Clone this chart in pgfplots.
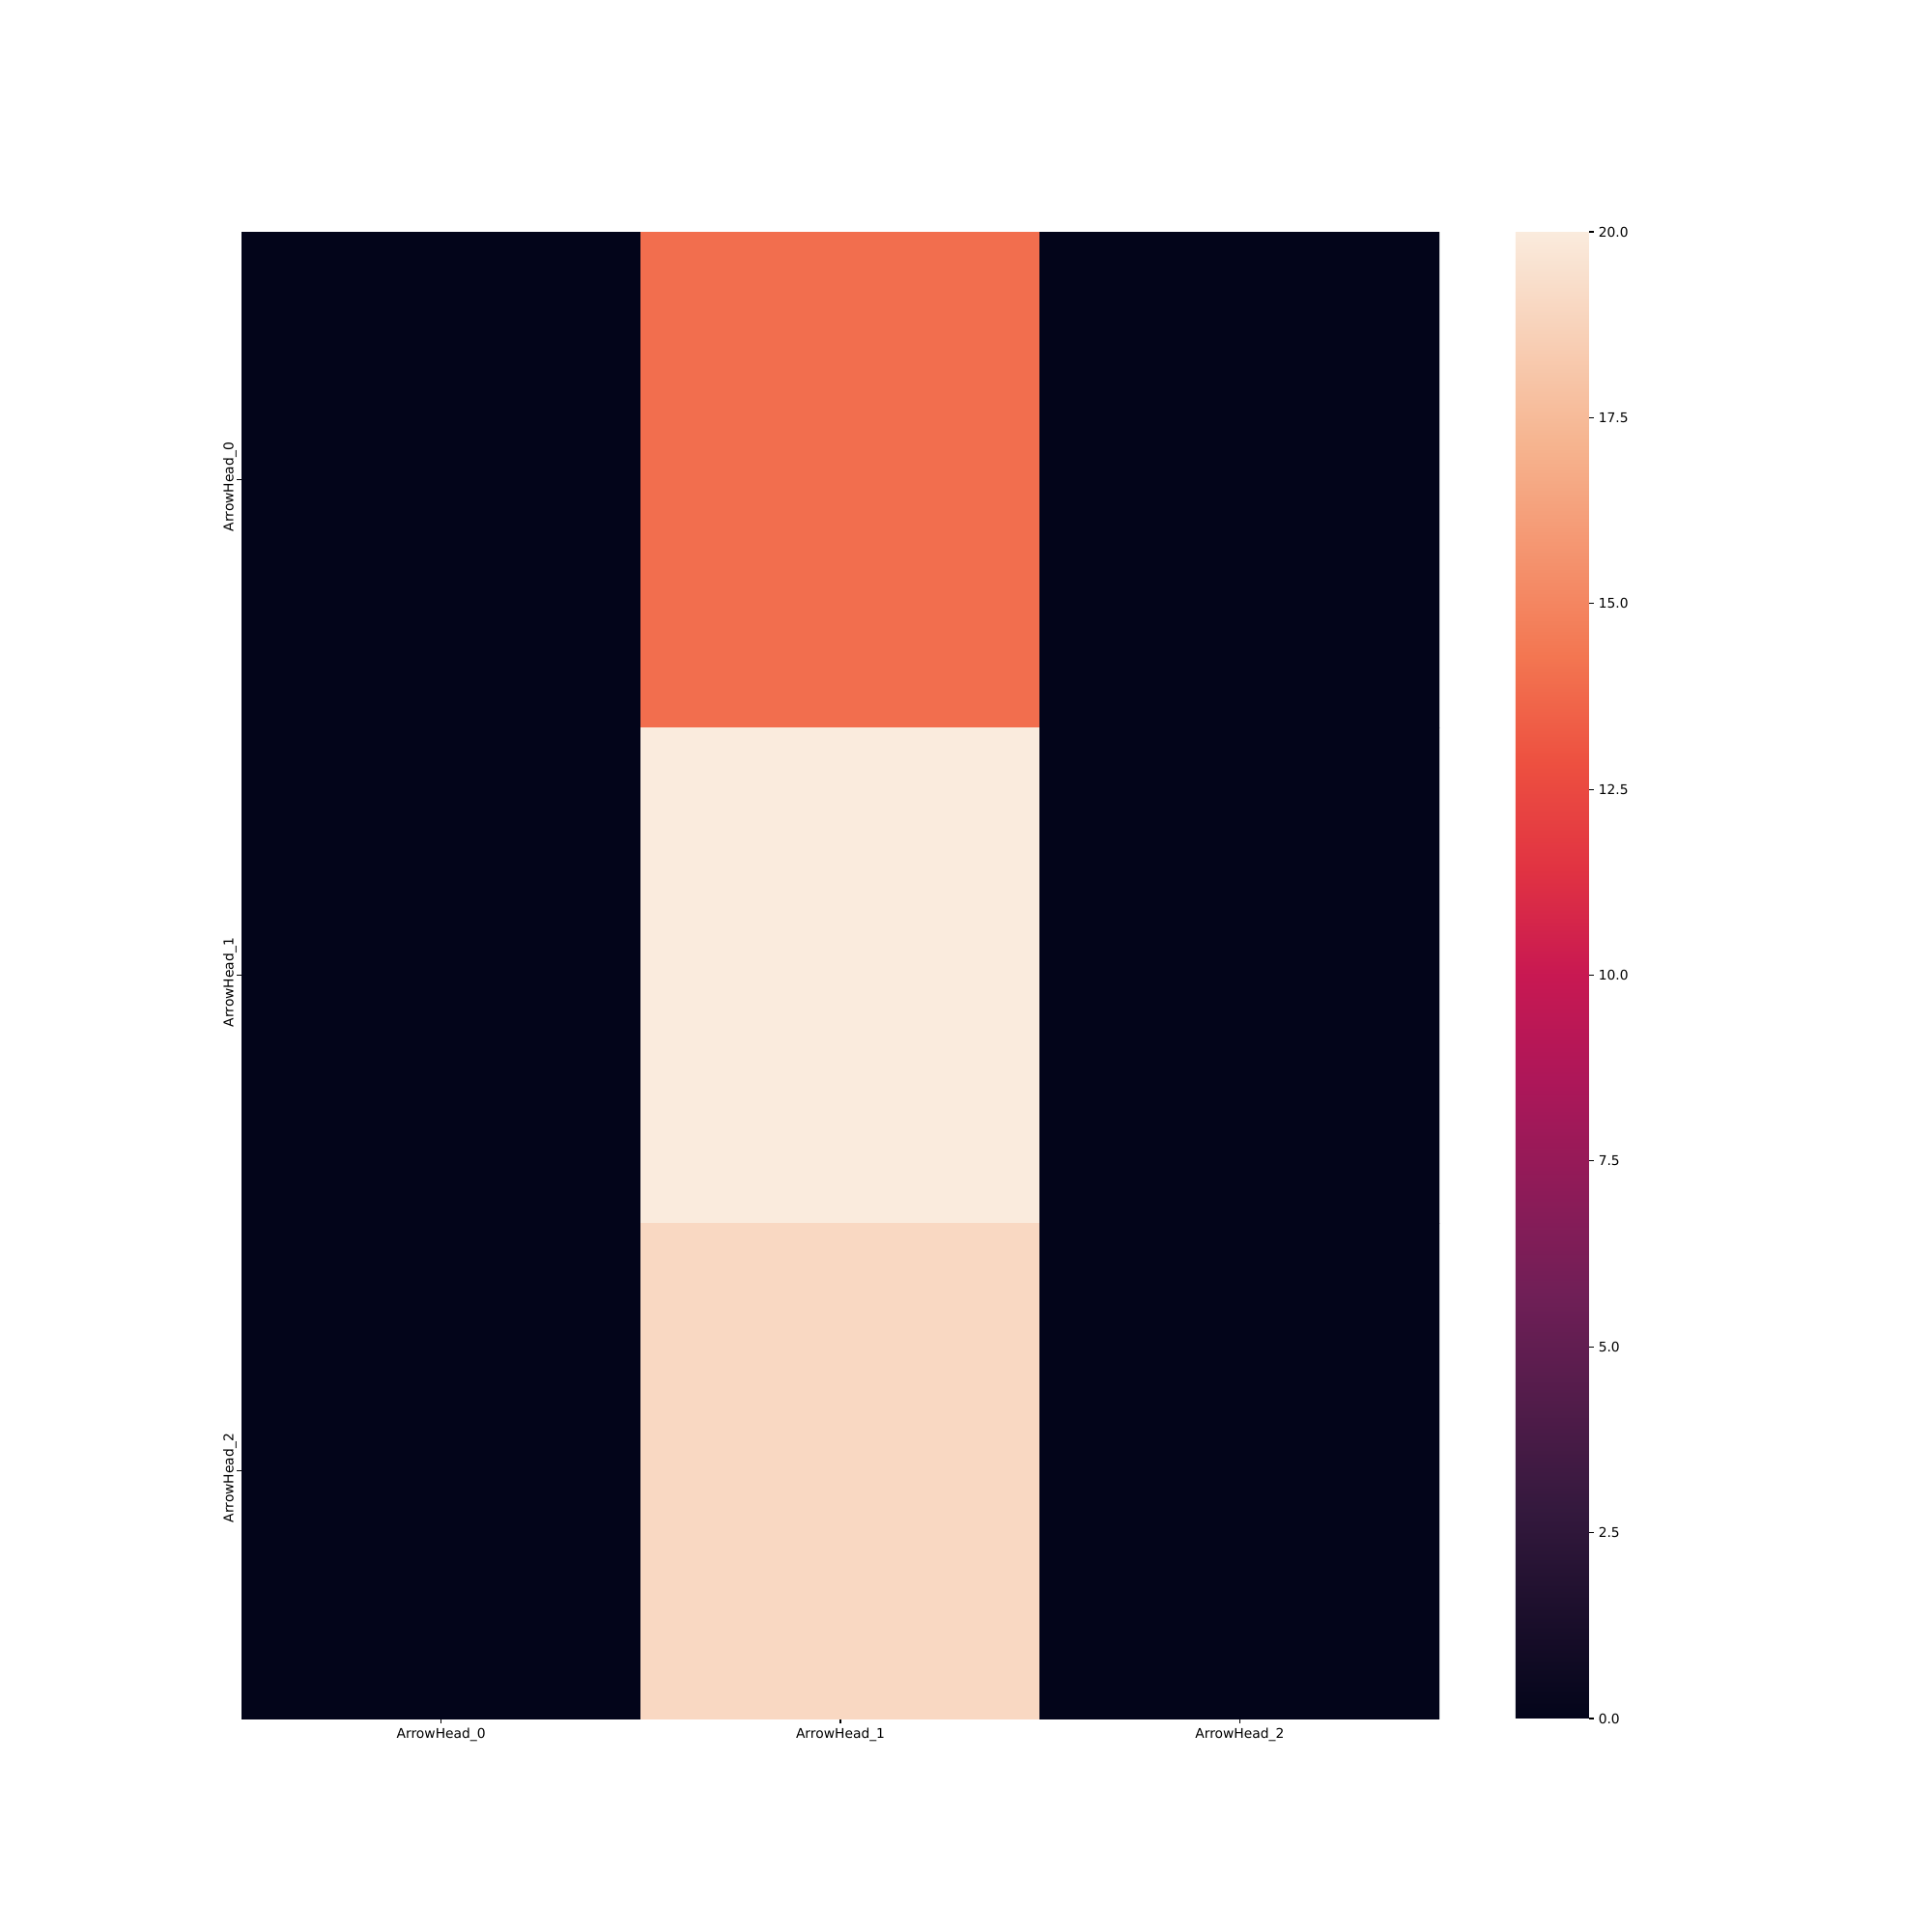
\documentclass[border=0pt]{standalone}
\usepackage{fontspec}
\setmainfont{DejaVu Sans}
\usepackage{pgfplots}
\pgfplotsset{compat=1.18}
\pgfplotsset{
  colormap={rocket}{
    rgb255(0)=(3,5,26)
    rgb255(2)=(53,25,62)
    rgb255(4)=(112,31,87)
    rgb255(6)=(173,23,89)
    rgb255(7)=(200,24,82)
    rgb255(8)=(225,51,66)
    rgb255(9)=(237,80,64)
    rgb255(10)=(243,118,81)
    rgb255(12)=(246,180,143)
    rgb255(14)=(250,235,221)
  }
}
\begin{document}
\begin{tikzpicture}
\path[use as bounding box] (0,0) rectangle (20in,20in);
\begin{axis}[
  at={(2.5in,2.21in)}, anchor=south west,
  scale only axis, width=12.4in, height=15.39in,
  xmin=-0.5, xmax=2.5, ymin=-0.5, ymax=2.5,
  y dir=reverse,
  axis line style={draw=none},
  xtick={0,1,2}, ytick={0,1,2},
  xticklabels={ArrowHead\_0,ArrowHead\_1,ArrowHead\_2},
  yticklabels={ArrowHead\_0,ArrowHead\_1,ArrowHead\_2},
  xtick pos=bottom, ytick pos=left,
  tick align=outside, major tick length=3.5pt,
  tick style={black, line width=0.8pt},
  yticklabel style={rotate=90, anchor=south, inner sep=0pt, xshift=-5.5pt},
  xticklabel style={anchor=north, inner sep=0pt, yshift=-3.5pt},
  colormap name=rocket,
  point meta min=0, point meta max=20,
  colorbar,
  colorbar/width=0.76in,
  colorbar style={
    at={(parent axis.north east)}, anchor=north west, xshift=0.67in,
    scale only axis, width=0.76in, height=15.39in,
    y dir=normal,
    axis line style={draw=none},
    xtick=\empty,
    ytick={0,2.5,...,20},
    ytick pos=right,
    yticklabel pos=right,
    tick align=outside, major tick length=3.5pt,
    tick style={black, line width=0.8pt},
    yticklabel style={anchor=west, inner sep=0pt, xshift=3.5pt, rotate=0,
      /pgf/number format/.cd, fixed, fixed zerofill, precision=1, assume math mode=true},
  },
]
\addplot[matrix plot*, mesh/cols=3, point meta=explicit, draw=none, shader=flat corner] table[meta=c] {
x y c
0 0 0
1 0 14
2 0 0
0 1 0
1 1 20
2 1 0
0 2 0
1 2 19
2 2 0
};
\end{axis}
\end{tikzpicture}
\end{document}
